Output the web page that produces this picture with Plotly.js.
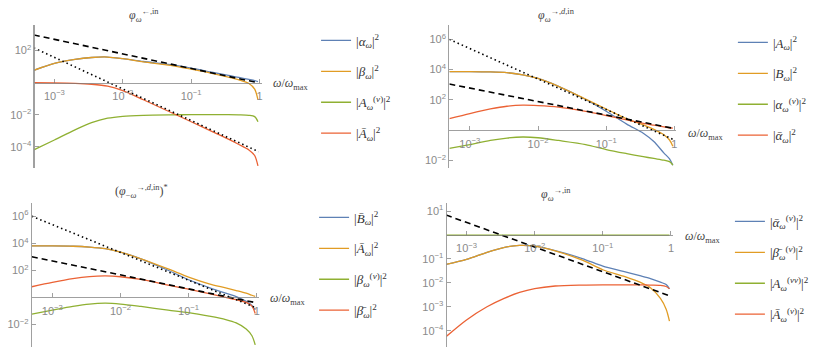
<!DOCTYPE html>
<html>
<head>
<meta charset="utf-8">
<script src="https://cdn.plot.ly/plotly-3.0.1.min.js"></script>
<style>html,body{margin:0;padding:0;background:#fff;}#chart{width:814px;height:348px;}</style>
</head>
<body>
<div id="chart"></div>
<script>
// ---------- data (curves stored as log10 of |.|^2) ----------
const omega = [5.0e-4, 1e-3, 2e-3, 3.5e-3, 6e-3, 1e-2, 2e-2, 5e-2, 0.1, 0.2, 0.35, 0.5, 0.7, 0.85, 0.95];
const omegaRef = [5.0e-4, 0.97];

// panel 1: phi_omega^{<-,in}
const p1Alpha = [0.77, 1.2, 1.45, 1.57, 1.6, 1.5, 1.32, 1.12, 0.9, 0.65, 0.45, 0.33, 0.2, 0.12, 0.06];
const p1Beta  = [0.77, 1.2, 1.45, 1.57, 1.6, 1.5, 1.3, 1.08, 0.84, 0.58, 0.34, 0.17, -0.05, -0.4, -1.07];
const p1Av    = [-4.2, -3.58, -2.95, -2.5, -2.22, -2.1, -2.04, -2.01, -2.0, -2.0, -2.0, -2.01, -2.04, -2.12, -2.44];
const p1Abar  = [0, -0.01, -0.04, -0.1, -0.22, -0.5, -1.07, -1.85, -2.44, -3.04, -3.53, -3.86, -4.2, -4.55, -5.2];
const p1Dash  = [2.98, -0.01];
const p1Dot   = [2.17, -4.31];

// panel 2: phi_omega^{->,d,in}
const p2A      = [3.87, 3.87, 3.85, 3.8, 3.66, 3.42, 2.9, 2.03, 1.25, 0.4, -0.2, -0.75, -1.5, -1.9, -2.32];
const p2B      = [3.87, 3.87, 3.85, 3.8, 3.66, 3.42, 2.9, 2.05, 1.4, 0.75, 0.35, 0.05, -0.3, -0.65, -1.06];
const p2AlphaV = [-1.21, -0.95, -0.68, -0.52, -0.45, -0.5, -0.68, -0.95, -1.28, -1.55, -1.75, -1.87, -1.98, -2.08, -2.3];
const p2AlphaBar = [0.77, 1.1, 1.4, 1.58, 1.65, 1.62, 1.52, 1.24, 0.97, 0.68, 0.45, 0.33, 0.22, 0.16, 0.13];
const p2Dash   = [3.05, 0.12];
const p2Dot    = [6.0, -0.62];

// panel 3: (phi_{-omega}^{->,d,in})^*
const p3Bbar    = [3.8, 3.8, 3.78, 3.72, 3.6, 3.35, 2.85, 2.0, 1.3, 0.72, 0.3, 0.05, -0.3, -0.6, -0.94];
const p3Abar    = [3.8, 3.8, 3.78, 3.72, 3.6, 3.35, 2.85, 2.1, 1.5, 1.0, 0.7, 0.5, 0.3, 0.15, 0.07];
const p3BetaV   = [-1.24, -0.95, -0.67, -0.5, -0.44, -0.5, -0.68, -0.95, -1.14, -1.4, -1.65, -1.9, -2.35, -2.85, -3.53];
const p3BetaBar = [0.78, 1.1, 1.38, 1.53, 1.58, 1.52, 1.32, 0.9, 0.6, 0.27, 0.0, -0.18, -0.38, -0.65, -1.2];
const p3Dash    = [3.0, -0.4];
const p3Dot     = [6.0, -0.77];

// panel 4: phi_omega^{->,in}
const p4AlphaV = [-1.23, -1.02, -0.72, -0.52, -0.43, -0.46, -0.65, -0.98, -1.3, -1.52, -1.7, -1.82, -1.97, -2.07, -2.25];
const p4BetaV  = [-1.23, -1.02, -0.72, -0.52, -0.43, -0.46, -0.66, -1.05, -1.45, -1.72, -1.97, -2.2, -2.65, -3.1, -3.6];
const p4Avv    = [0, 0, 0, 0, 0, 0, 0, 0, 0, 0, 0, 0, 0, 0, 0];
const p4AbarV  = [-4.25, -3.55, -3.0, -2.66, -2.4, -2.24, -2.13, -2.09, -2.08, -2.08, -2.08, -2.09, -2.1, -2.15, -2.25];
const p4Dash   = [0.84, -2.55];

// tick labels
const xTickVals = [1e-3, 1e-2, 1e-1, 1];
const xTickText = ['10<sup>−3</sup>', '10<sup>−2</sup>', '10<sup>−1</sup>', '1'];
const y1TickVals = [1e2, 1e-2, 1e-4];
const y1TickText = ['10<sup>2</sup>', '10<sup>−2</sup>', '10<sup>−4</sup>'];
const y2TickVals = [1e6, 1e4, 1e2, 1e-2];
const y2TickText = ['10<sup>6</sup>', '10<sup>4</sup>', '10<sup>2</sup>', '10<sup>−2</sup>'];
const y4TickVals = [1e1, 1e-1, 1e-2, 1e-3, 1e-4];
const y4TickText = ['10<sup>1</sup>', '10<sup>−1</sup>', '10<sup>−2</sup>', '10<sup>−3</sup>', '10<sup>−4</sup>'];

const titles = [
  '<i>φ</i><sub><i>ω</i></sub><sup>←,in</sup>',
  '<i>φ</i><sub><i>ω</i></sub><sup>→,<i>d</i>,in</sup>',
  '(<i>φ</i><sub>−<i>ω</i></sub><sup>→,<i>d</i>,in</sup>)<sup>*</sup>',
  '<i>φ</i><sub><i>ω</i></sub><sup>→,in</sup>'
];
const names = [
  ['|<i>α</i><sub><i>ω</i></sub>|<sup>2</sup>', '|<i>β</i><sub><i>ω</i></sub>|<sup>2</sup>', '|<i>A</i><sub><i>ω</i></sub><sup>(<i>v</i>)</sup>|<sup>2</sup>', '|<i>Ā</i><sub><i>ω</i></sub>|<sup>2</sup>'],
  ['|<i>A</i><sub><i>ω</i></sub>|<sup>2</sup>', '|<i>B</i><sub><i>ω</i></sub>|<sup>2</sup>', '|<i>α</i><sub><i>ω</i></sub><sup>(<i>v</i>)</sup>|<sup>2</sup>', '|<i>ᾱ</i><sub><i>ω</i></sub>|<sup>2</sup>'],
  ['|<i>B̄</i><sub><i>ω</i></sub>|<sup>2</sup>', '|<i>Ā</i><sub><i>ω</i></sub>|<sup>2</sup>', '|<i>β</i><sub><i>ω</i></sub><sup>(<i>v</i>)</sup>|<sup>2</sup>', '|<i>β̄</i><sub><i>ω</i></sub>|<sup>2</sup>'],
  ['|<i>ᾱ</i><sub><i>ω</i></sub><sup>(<i>v</i>)</sup>|<sup>2</sup>', '|<i>β̄</i><sub><i>ω</i></sub><sup>(<i>v</i>)</sup>|<sup>2</sup>', '|<i>A</i><sub><i>ω</i></sub><sup>(<i>vv</i>)</sup>|<sup>2</sup>', '|<i>Ā</i><sub><i>ω</i></sub><sup>(<i>v</i>)</sup>|<sup>2</sup>']
];
const xLabel = '<i>ω</i>/<i>ω</i><sub>max</sub>';

// ---------- styling / layout ----------
const W = 814, H = 348;
const colors = ['#5E81B5', '#E19C24', '#8FB032', '#EB6235'];
const pow10 = a => a.map(v => Math.pow(10, v));

const panels = [
  {xpx: [35, 264.8],   ypx: [25, 168],      xr: [-3.29, 0.03], yr: [-5.33, 3.6],  yv: y1TickVals, yt: y1TickText,
   series: [p1Alpha, p1Beta, p1Av, p1Abar], dash: p1Dash, dot: p1Dot,
   title: [146, 15], xl: [295, 84], leg: [320, 87]},
  {xpx: [455, 684.8],  ypx: [25, 168],      xr: [-3.3, 0.03],  yr: [-2.5, 6.95],  yv: y2TickVals, yt: y2TickText,
   series: [p2A, p2B, p2AlphaV, p2AlphaBar], dash: p2Dash, dot: p2Dot,
   title: [563, 15], xl: [715, 134], leg: [742, 89]},
  {xpx: [32.3, 262],   ypx: [203.3, 346.7], xr: [-3.3, 0.03],  yr: [-3.66, 6.96], yv: y2TickVals, yt: y2TickText,
   series: [p3Bbar, p3Abar, p3BetaV, p3BetaBar], dash: p3Dash, dot: p3Dot,
   title: [143, 191], xl: [292, 299], leg: [318, 264]},
  {xpx: [452.3, 681.4], ypx: [203.3, 346.7], xr: [-3.29, 0.03], yr: [-4.67, 1.33], yv: y4TickVals, yt: y4TickText,
   series: [p4AlphaV, p4BetaV, p4Avv, p4AbarV], dash: p4Dash, dot: null,
   title: [563, 195], xl: [712, 237], leg: [739, 268]}
];

const traces = [];
const layout = {
  width: W, height: H, margin: {l: 0, r: 0, t: 0, b: 0},
  paper_bgcolor: '#fff', plot_bgcolor: 'rgba(0,0,0,0)', showlegend: true,
  annotations: []
};
const axisGray = 'rgba(120,120,120,0.7)';
const tickFont = {family: 'Liberation Sans, Arial, sans-serif', size: 11, color: '#8a8a8a'};

panels.forEach((p, i) => {
  const k = i === 0 ? '' : String(i + 1);
  const xa = 'x' + k, ya = 'y' + k, lg = 'legend' + k;
  const ytop = p.ypx[0], ybot = p.ypx[1];
  const y0px = ytop + p.yr[1] / (p.yr[1] - p.yr[0]) * (ybot - ytop);
  layout['xaxis' + k] = {
    type: 'log', range: p.xr, domain: [p.xpx[0] / W, p.xpx[1] / W],
    anchor: 'free', position: 1 - y0px / H,
    showline: true, linecolor: axisGray, linewidth: 1.2, layer: 'above traces',
    ticks: 'inside', ticklen: 4, tickwidth: 1, tickcolor: axisGray, ticklabelstandoff: 3,
    tickmode: 'array', tickvals: xTickVals, ticktext: xTickText, tickfont: tickFont,
    showgrid: false, zeroline: false, fixedrange: true
  };
  layout['yaxis' + k] = {
    type: 'log', range: p.yr, domain: [1 - ybot / H, 1 - ytop / H],
    anchor: xa, showline: true, linecolor: axisGray, linewidth: 1.2, layer: 'above traces',
    ticks: 'inside', ticklen: 4, tickwidth: 1, tickcolor: axisGray,
    tickmode: 'array', tickvals: p.yv, ticktext: p.yt, tickfont: tickFont,
    showgrid: false, zeroline: false, fixedrange: true
  };
  p.series.forEach((s, j) => {
    traces.push({
      x: omega, y: pow10(s), xaxis: xa, yaxis: ya, mode: 'lines', type: 'scatter',
      line: {color: colors[j], width: 1.3, shape: 'spline', smoothing: 0.8},
      name: names[i][j], legend: lg, legendgroup: 'g' + i + j, hoverinfo: 'skip'
    });
  });
  traces.push({x: omegaRef, y: pow10(p.dash), xaxis: xa, yaxis: ya, mode: 'lines', type: 'scatter',
    line: {color: '#000', width: 1.6, dash: '6px,4px'}, showlegend: false, hoverinfo: 'skip'});
  if (p.dot) traces.push({x: omegaRef, y: pow10(p.dot), xaxis: xa, yaxis: ya, mode: 'lines', type: 'scatter',
    line: {color: '#000', width: 1.6, dash: '1.5px,3px'}, showlegend: false, hoverinfo: 'skip'});

  layout[lg] = {
    x: p.leg[0] / W, y: 1 - p.leg[1] / H, xanchor: 'left', yanchor: 'middle',
    bgcolor: 'rgba(0,0,0,0)', borderwidth: 0, tracegroupgap: 11, itemwidth: 30,
    font: {family: 'Liberation Serif, DejaVu Serif, serif', size: 13, color: '#333'}
  };
  layout.annotations.push({xref: 'paper', yref: 'paper', x: p.title[0] / W, y: 1 - p.title[1] / H,
    text: titles[i], showarrow: false, xanchor: 'center', yanchor: 'middle',
    font: {family: 'Liberation Serif, DejaVu Serif, serif', size: 12, color: '#444'}});
  layout.annotations.push({xref: 'paper', yref: 'paper', x: p.xl[0] / W, y: 1 - p.xl[1] / H,
    text: xLabel, showarrow: false, xanchor: 'center', yanchor: 'middle',
    font: {family: 'Liberation Serif, DejaVu Serif, serif', size: 12, color: '#444'}});
});

Plotly.newPlot('chart', traces, layout, {displayModeBar: false, staticPlot: true});
</script>
</body>
</html>
